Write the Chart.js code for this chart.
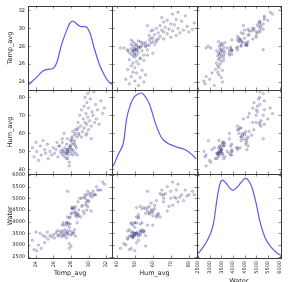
<!DOCTYPE html>
<html>
<head>
<meta charset="utf-8">
<script src="https://cdn.jsdelivr.net/npm/chart.js@4"></script>
<style>
  body { margin: 0; background: #fff; }
  canvas { display: block; }
</style>
</head>
<body>
<canvas id="matrixChart" width="290" height="282"></canvas>
<script>
    // one row per observation, same order in all three lists
    const temp = [
        23.6, 23.8, 24.0, 24.1, 24.3, 24.5, 24.6, 24.8, 25.0, 25.1, 25.3, 25.4,
        25.6, 25.8, 26.0, 26.1, 26.3, 26.5, 26.6, 26.8, 26.9, 27.0, 27.1, 27.2, 27.3, 27.4,
        27.5, 27.6, 27.7, 27.8, 27.9, 28.0, 28.1, 28.2, 28.3, 28.4, 28.5, 27.8, 28.0, 26.4,
        27.1, 26.7, 27.5, 27.0, 27.6, 27.0, 27.6, 27.2, 27.9, 27.5, 28.1, 27.5, 28.0, 27.5,
        28.2, 27.9, 28.4, 27.8, 28.3, 27.8, 28.5, 28.1, 28.7, 28.1, 28.5, 28.1, 28.7, 28.4,
        28.8, 28.5, 28.9, 27.7, 27.3, 27.6, 28.6,
        28.7, 28.8, 28.9, 29.0, 29.1, 29.2, 29.3, 29.4, 29.5, 29.5, 29.6, 29.6, 29.7, 29.7,
        29.8, 29.8, 29.9, 29.9, 30.0, 30.0, 30.1, 30.2, 30.3, 30.4, 30.5, 30.6, 30.7, 30.8,
        30.9, 31.0, 31.2, 31.4, 31.6, 31.8, 29.2, 29.8, 30.3, 27.6
    ];
    const hum = [
        52, 47, 55, 50, 45, 53, 48, 56, 51, 49, 54, 46,
        50, 48, 52, 49, 51, 47, 53, 50, 49, 51, 48, 50, 52, 49,
        46, 51, 50, 42, 53, 49, 51, 48, 50, 54, 49, 44, 56, 55,
        50, 53, 49, 55, 51, 57, 50, 60, 52, 54, 58, 49, 56, 51,
        61, 53, 59, 50, 55, 52, 62, 57, 48, 54, 60, 51, 58, 56,
        63, 53, 59, 48, 47, 46, 52,
        62, 66, 60, 70, 64, 73, 61, 68, 75, 63, 80, 66, 71, 59,
        77, 65, 69, 82, 62, 74, 67, 79, 64, 72, 70, 83, 66, 76,
        68, 73, 65, 78, 71, 74, 58, 60, 57, 57
    ];
    const water = [
        3200, 2800, 3550, 2750, 3000, 3500, 2850, 3400, 3100, 3350, 3550, 3250,
        3400, 3350, 3450, 3300, 3500, 3380, 3420, 3480, 3350, 3520, 3400, 3450, 3380, 3550,
        3300, 3500, 3450, 2850, 3600, 3420, 3480, 3550, 3500, 3650, 3380, 3050, 2950, 3600,
        3950, 3600, 3850, 3600, 4200, 3850, 3950, 3850, 4200, 3950, 4350, 3500, 4350, 3950,
        4550, 3900, 4400, 3750, 4600, 4150, 4250, 4600, 3950, 4550, 4400, 4600, 4350, 4550,
        4300, 4650, 4500, 3900, 3650, 3600, 4300,
        4200, 4850, 4250, 5000, 4200, 5000, 4700, 4450, 5050, 4350, 5150, 5000, 4700, 4800,
        4900, 5150, 4650, 5300, 4900, 4850, 5200, 5100, 5200, 5050, 5300, 5150, 5150, 5150,
        5500, 5350, 5350, 5350, 5700, 5600, 4650, 4500, 4450, 5300
    ];

    // density curves on the diagonal
    const tempKdeX = [23.2, 24.1, 24.8, 25.4, 25.9, 26.4, 26.9, 27.5, 27.9, 28.2, 28.65, 29.1, 29.5, 29.85, 30.2, 30.6, 31.2, 31.8, 32.3, 32.7];
    const tempKdeY = [0.020, 0.046, 0.068, 0.074, 0.076, 0.100, 0.160, 0.213, 0.240, 0.246, 0.236, 0.226, 0.226, 0.222, 0.200, 0.154, 0.094, 0.053, 0.029, 0.020];
    const humKdeX = [38.0, 41.1, 43.8, 45.4, 47.6, 49.7, 51.9, 53.5, 55.1, 58.2, 61.6, 64.3, 66.3, 72.4, 77.8, 81.6, 84.3];
    const humKdeY = [0.0042, 0.0111, 0.0173, 0.0293, 0.0372, 0.0413, 0.0429, 0.0434, 0.0424, 0.0372, 0.0267, 0.0204, 0.0178, 0.0147, 0.0131, 0.0105, 0.0078];
    const waterKdeX = [2460, 2536, 2885, 3160, 3326, 3438, 3551, 3688, 3854, 3992, 4158, 4341, 4520, 4657, 4824, 4990, 5173, 5381, 5656, 5934, 6050];
    const waterKdeY = [0.000022, 0.0000315, 0.000101, 0.000201, 0.000359, 0.000439, 0.000463, 0.000448, 0.000418, 0.000403, 0.000418, 0.000448, 0.000474, 0.000463, 0.000418, 0.000329, 0.000210, 0.000121, 0.0000613, 0.0000256, 0.000018];

    const tempTicks = [24, 26, 28, 30, 32];
    const humTicks = [40, 50, 60, 70, 80];
    const waterTicks = [2500, 3000, 3500, 4000, 4500, 5000, 5500, 6000];

    const family = 'DejaVu Sans';
    const rowIds = ['yT', 'yH', 'yW'];
    const colIds = ['xT', 'xH', 'xW'];

    function pairs(xs, ys) {
        return xs.map((x, i) => ({x: x, y: ys[i]}));
    }

    function scatterSet(xs, ys, xId, yId) {
        return {
            data: pairs(xs, ys),
            xAxisID: xId,
            yAxisID: yId,
            pointRadius: 1.2,
            pointBorderWidth: 0.5,
            pointBackgroundColor: 'rgba(140, 140, 210, 0.3)',
            pointBorderColor: 'rgba(40, 40, 100, 0.5)'
        };
    }

    function kdeSet(xs, ys, xId, yId) {
        return {
            data: pairs(xs, ys),
            xAxisID: xId,
            yAxisID: yId,
            showLine: true,
            pointRadius: 0,
            borderColor: '#5b5bf0',
            borderWidth: 1.2,
            cubicInterpolationMode: 'monotone'
        };
    }

    function xAxis(title, min, max, ticks, titlePad) {
        return {
            type: 'linear', position: 'bottom', stack: 'cols', min: min, max: max,
            afterBuildTicks: s => { s.ticks = ticks.map(v => ({value: v})); },
            afterFit: s => { s.height = 24; },
            grid: {display: false, drawTicks: false},
            border: {display: false},
            ticks: {
                autoSkip: false, minRotation: 90, maxRotation: 90, padding: 3,
                font: {size: 5, family: family}, color: '#222',
                callback: v => String(v)
            },
            title: {display: true, text: title, color: '#222',
                padding: {top: 0, bottom: titlePad}, font: {size: 6.5, family: family}}
        };
    }

    function yAxis(title, min, max, ticks) {
        return {
            type: 'linear', position: 'left', stack: 'rows', min: min, max: max,
            afterBuildTicks: s => { s.ticks = ticks.map(v => ({value: v})); },
            afterFit: s => { s.width = 28; },
            grid: {display: false, drawTicks: false},
            border: {display: false},
            ticks: {autoSkip: false, padding: 3, font: {size: 5, family: family}, color: '#222',
                callback: v => String(v)},
            title: {display: true, text: title, color: '#222',
                padding: {top: 6, bottom: 0}, font: {size: 6.5, family: family}}
        };
    }

    function kdeAxis(max) {
        return {
            type: 'linear', position: 'right', stack: 'kde', min: 0, max: max,
            afterFit: s => { s.width = 0; },
            grid: {display: false, drawTicks: false},
            border: {display: false},
            ticks: {display: false}
        };
    }

    // frame every cell and put small inward ticks on its edges
    const cellFrame = {
        id: 'cellFrame',
        afterDatasetsDraw(chart) {
            const {ctx, scales} = chart;
            ctx.save();
            ctx.strokeStyle = '#3a3a3a';
            for (const r of rowIds) {
                for (const c of colIds) {
                    const xs = scales[c], ys = scales[r];
                    const l = Math.round(xs.left), rt = Math.round(xs.right);
                    const t = Math.round(ys.top), b = Math.round(ys.bottom);
                    ctx.lineWidth = 0.6;
                    ctx.beginPath();
                    xs.ticks.forEach(tk => {
                        const x = Math.round(xs.getPixelForValue(tk.value)) + 0.5;
                        ctx.moveTo(x, t); ctx.lineTo(x, t + 2.5);
                        ctx.moveTo(x, b); ctx.lineTo(x, b - 2.5);
                    });
                    ys.ticks.forEach(tk => {
                        const y = Math.round(ys.getPixelForValue(tk.value)) + 0.5;
                        ctx.moveTo(l, y); ctx.lineTo(l + 2.5, y);
                        ctx.moveTo(rt, y); ctx.lineTo(rt - 2.5, y);
                    });
                    ctx.stroke();
                    ctx.lineWidth = 1;
                    ctx.strokeRect(l + 0.5, t + 0.5, rt - l, b - t);
                }
            }
            ctx.restore();
        }
    };

    const ctx = document.getElementById('matrixChart').getContext('2d');
    const matrixChart = new Chart(ctx, {
        type: 'scatter',
        data: {
            datasets: [
                kdeSet(tempKdeX, tempKdeY, 'xT', 'kT'),
                scatterSet(hum, temp, 'xH', 'yT'),
                scatterSet(water, temp, 'xW', 'yT'),
                scatterSet(temp, hum, 'xT', 'yH'),
                kdeSet(humKdeX, humKdeY, 'xH', 'kH'),
                scatterSet(water, hum, 'xW', 'yH'),
                scatterSet(temp, water, 'xT', 'yW'),
                scatterSet(hum, water, 'xH', 'yW'),
                kdeSet(waterKdeX, waterKdeY, 'xW', 'kW')
            ]
        },
        options: {
            responsive: false,
            animation: false,
            layout: {padding: {top: 4, right: 2, bottom: 0, left: 0}},
            plugins: {
                legend: {display: false},
                tooltip: {enabled: false}
            },
            scales: {
                xT: xAxis('Temp_avg', 23.1, 32.7, tempTicks, 5),
                xH: xAxis('Hum_avg', 37.5, 84.3, humTicks, 5),
                xW: xAxis('Water', 2440, 6060, waterTicks, -3),
                yW: yAxis('Water', 2440, 6040, waterTicks),
                yH: yAxis('Hum_avg', 37.5, 84.0, humTicks),
                yT: yAxis('Temp_avg', 23.1, 32.5, tempTicks),
                kT: kdeAxis(0.30),
                kH: kdeAxis(0.045),
                kW: kdeAxis(0.0005)
            }
        },
        plugins: [cellFrame]
    });
</script>
</body>
</html>
